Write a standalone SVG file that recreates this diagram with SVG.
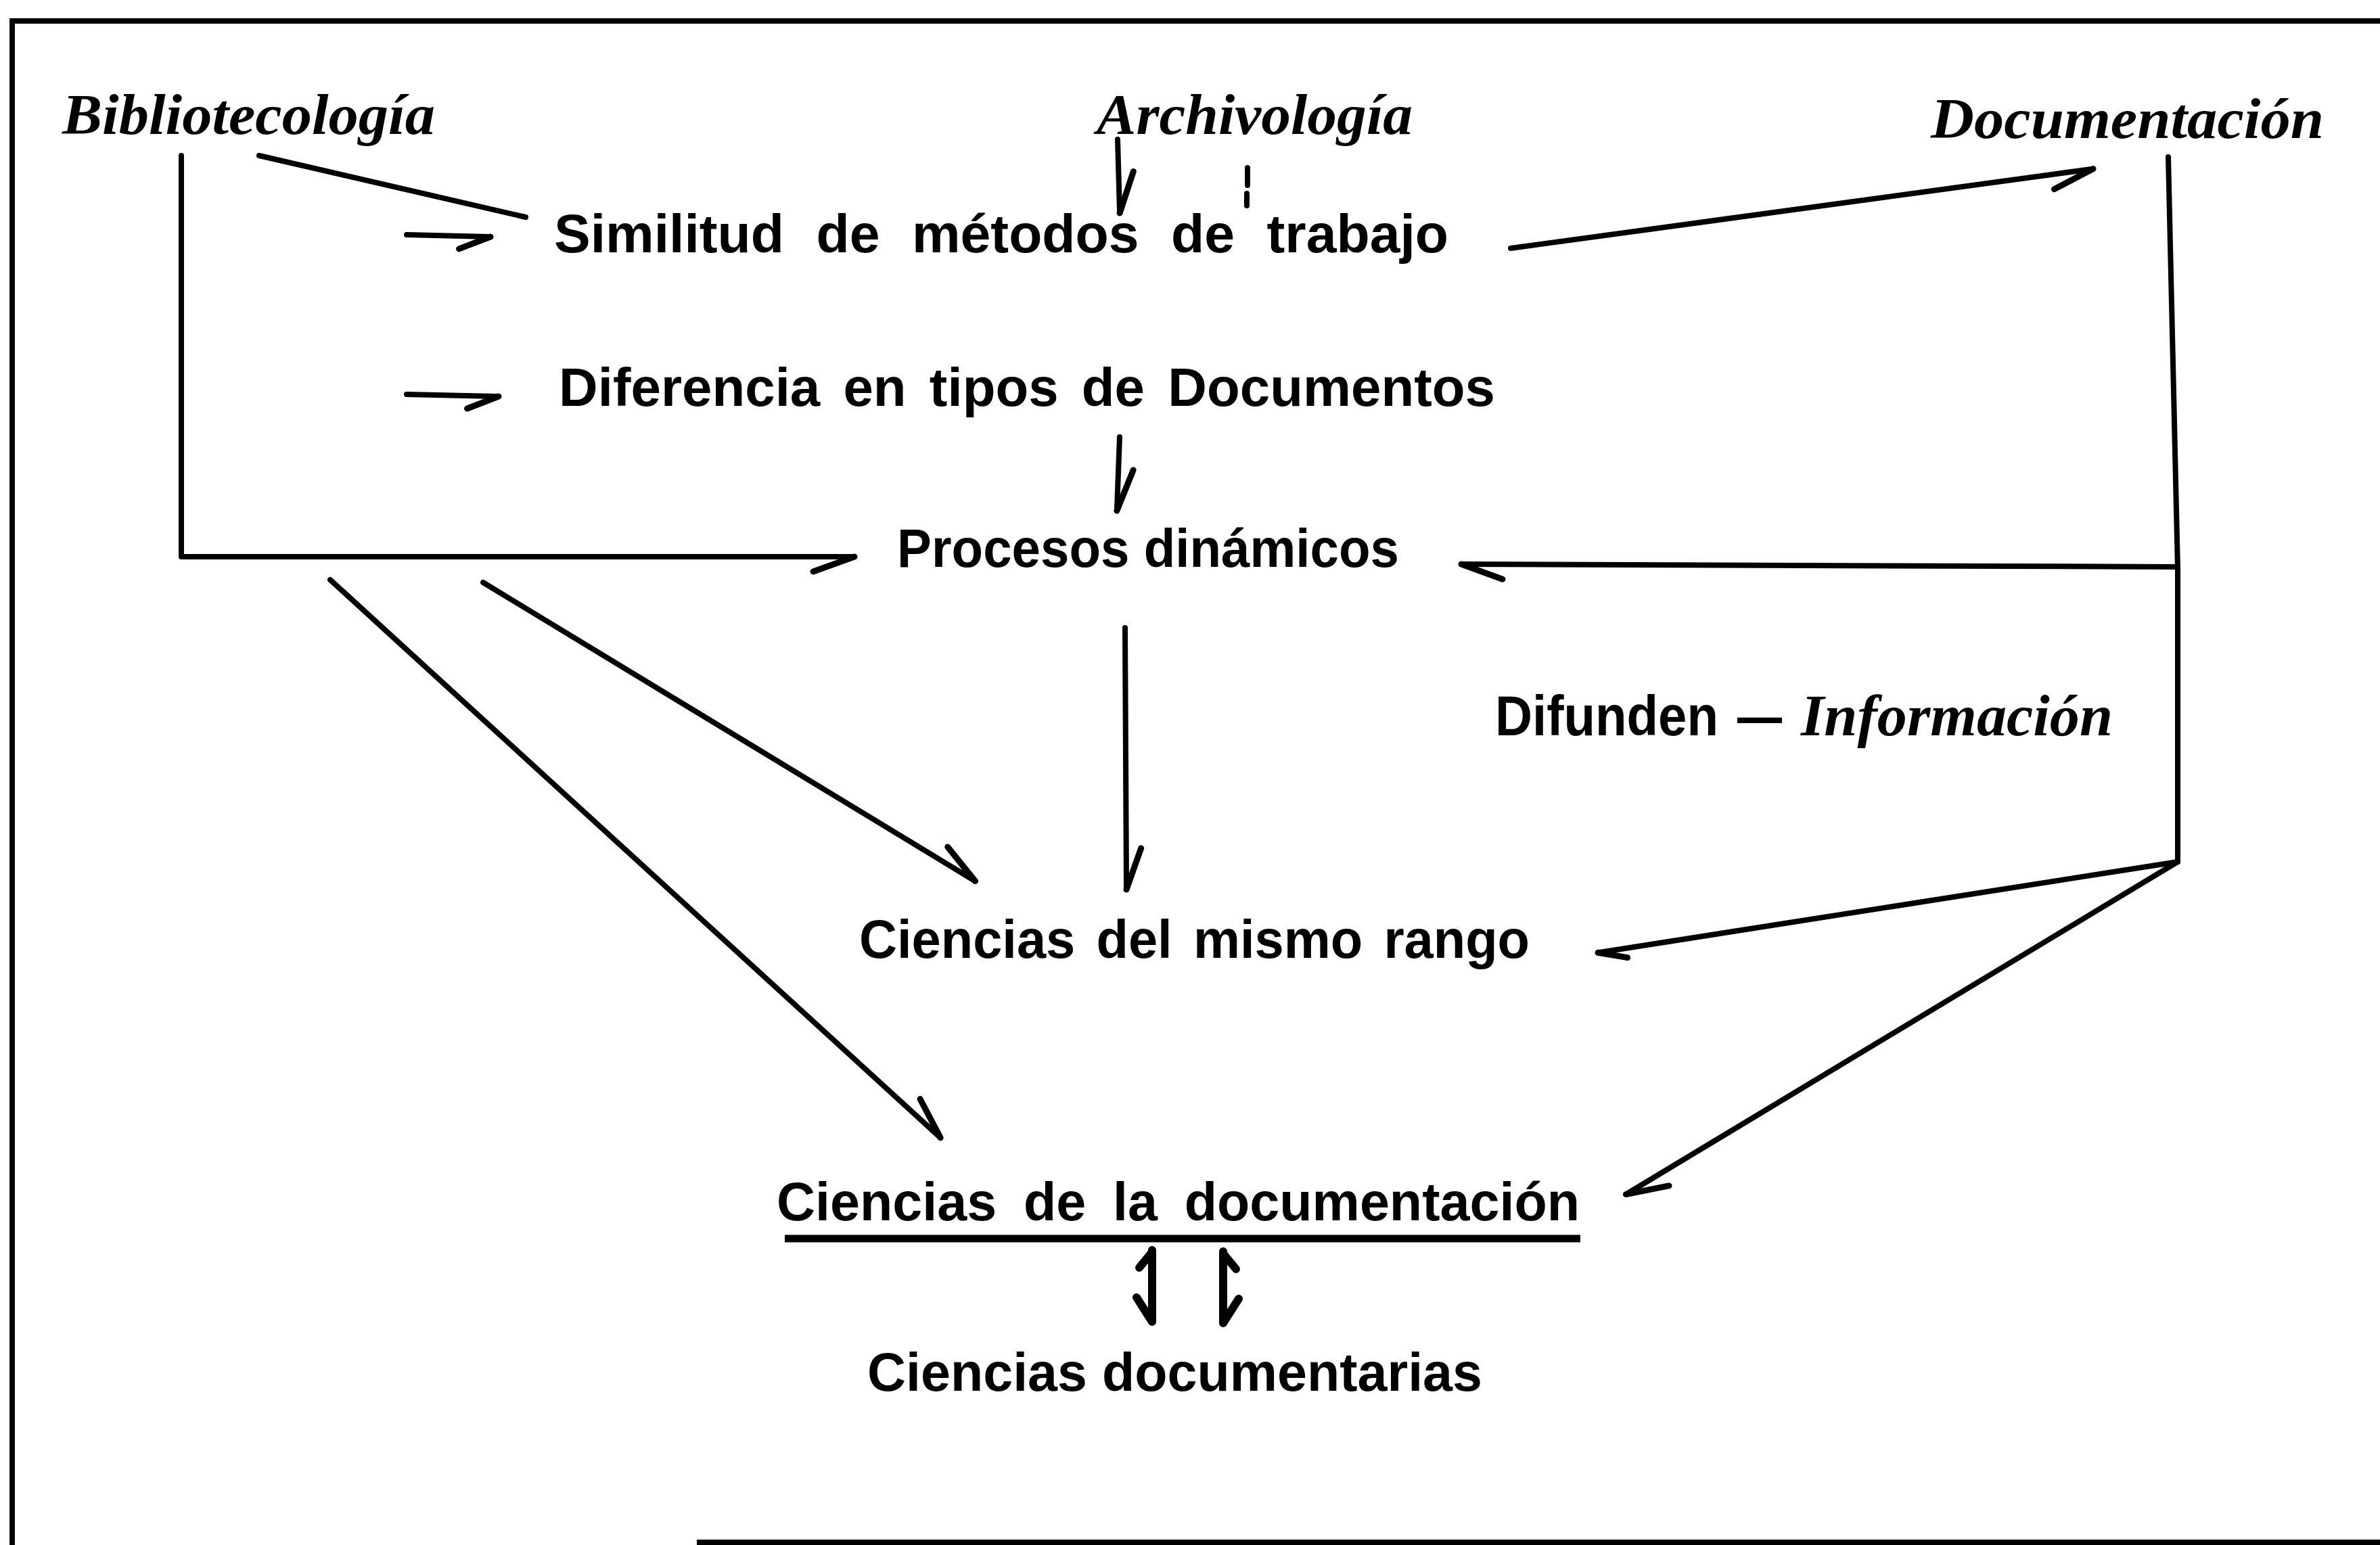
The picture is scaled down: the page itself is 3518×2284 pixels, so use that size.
<svg xmlns="http://www.w3.org/2000/svg" xmlns:xlink="http://www.w3.org/1999/xlink" width="3518" height="2284" viewBox="0 0 3518 2284">
<style>
.lbl{font-family:"Liberation Sans",Arial,sans-serif;font-weight:bold;font-size:80px;fill:#000}
.it{font-family:"Liberation Serif","Times New Roman",serif;font-style:italic;font-weight:bold;font-size:84px;fill:#000}
.ln{fill:none;stroke:#000;stroke-width:8;stroke-linecap:round;stroke-linejoin:round}
.frame{fill:none;stroke:#000;stroke-width:8}
</style>
<defs>
<marker id="barbR" markerUnits="userSpaceOnUse" orient="auto" refX="0" refY="0" markerWidth="1" markerHeight="1" overflow="visible">
<path d="M3,0 L-58,22" fill="none" stroke="#000" stroke-width="9" stroke-linecap="round"/>
</marker>
<marker id="barbL" markerUnits="userSpaceOnUse" orient="auto" refX="0" refY="0" markerWidth="1" markerHeight="1" overflow="visible">
<path d="M3,0 L-58,-22" fill="none" stroke="#000" stroke-width="9" stroke-linecap="round"/>
</marker>
<marker id="barbRs" markerUnits="userSpaceOnUse" orient="auto" refX="0" refY="0" markerWidth="1" markerHeight="1" overflow="visible">
<path d="M2,0 L-44,19" fill="none" stroke="#000" stroke-width="9" stroke-linecap="round"/>
</marker>
<marker id="barbLs" markerUnits="userSpaceOnUse" orient="auto" refX="0" refY="0" markerWidth="1" markerHeight="1" overflow="visible">
<path d="M2,0 L-40,-14" fill="none" stroke="#000" stroke-width="9" stroke-linecap="round"/>
</marker>
<g id="dbl">
<path d="M0,0 V106 M0,3 L-19,26 M0,106 L-23,70" fill="none" stroke="#000" stroke-width="12" stroke-linecap="round" stroke-linejoin="round"/>
</g>
</defs>
<rect x="0" y="0" width="3518" height="2284" fill="#fff"/>
<g id="frame">
<path class="frame" d="M3518,31 H18 V2284"/>
<path class="frame" d="M1030,2280 H3518"/>
</g>
<g id="connectors">
<path class="ln" d="M268,230 V823 H1260" marker-end="url(#barbR)"/>
<path class="ln" d="M383,230 L777,321"/>
<path class="ln" d="M601,347 L723,350" marker-end="url(#barbRs)"/>
<path class="ln" d="M601,583 L735,586" marker-end="url(#barbRs)"/>
<path class="ln" d="M1652,206 L1655,312" marker-end="url(#barbL)"/>
<path class="ln" d="M1844,248 V274 M1843,286 V304"/>
<path class="ln" d="M1655,646 L1651,752" marker-end="url(#barbL)"/>
<path class="ln" d="M2233,367 L3091,250" marker-end="url(#barbR)"/>
<path class="ln" d="M3205,232 L3219,841 V1274"/>
<path class="ln" d="M3219,838 L2163,834" marker-end="url(#barbL)"/>
<path class="ln" d="M1663,928 L1665,1312" marker-end="url(#barbL)"/>
<path class="ln" d="M3219,1274 L2364,1408" marker-end="url(#barbLs)"/>
<path class="ln" d="M3219,1274 L2406,1764" marker-end="url(#barbL)"/>
<path class="ln" d="M488,857 L1388,1680" marker-end="url(#barbL)"/>
<path class="ln" d="M714,861 L1439,1301" marker-end="url(#barbL)"/>
<use xlink:href="#dbl" href="#dbl" transform="translate(1703,1848)"/>
<use xlink:href="#dbl" href="#dbl" transform="translate(1808,1850) scale(-1,1)"/>
</g>
<g id="node-bibliotecologia"><text class="it" x="92" y="198" textLength="551" lengthAdjust="spacingAndGlyphs">Bibliotecología</text></g>
<g id="node-archivologia"><text class="it" x="1621" y="198" textLength="467" lengthAdjust="spacingAndGlyphs">Archivología</text></g>
<g id="node-documentacion"><text class="it" x="2854" y="204" textLength="581" lengthAdjust="spacingAndGlyphs">Documentación</text></g>
<g id="node-similitud"><text class="lbl" x="819" y="373" textLength="1322" lengthAdjust="spacingAndGlyphs" word-spacing="25">Similitud de métodos de trabajo</text></g>
<g id="node-diferencia"><text class="lbl" x="826" y="600" textLength="1384" lengthAdjust="spacingAndGlyphs" word-spacing="12">Diferencia en tipos de Documentos</text></g>
<g id="node-procesos"><text class="lbl" x="1326" y="838" textLength="742" lengthAdjust="spacingAndGlyphs">Procesos dinámicos</text></g>
<g id="node-difunden"><text class="lbl" y="1087" style="font-size:84px"><tspan x="2210" textLength="330" lengthAdjust="spacingAndGlyphs">Difunden</tspan><tspan x="2568" textLength="66" lengthAdjust="spacingAndGlyphs">—</tspan><tspan x="2662" class="it" style="font-size:86px" textLength="461" lengthAdjust="spacingAndGlyphs">Información</tspan></text></g>
<g id="node-mismo-rango"><text class="lbl" x="1270" y="1416" textLength="991" lengthAdjust="spacingAndGlyphs" word-spacing="10">Ciencias del mismo rango</text></g>
<g id="node-ciencias-documentacion">
<text class="lbl" x="1148" y="1804" textLength="1187" lengthAdjust="spacingAndGlyphs" word-spacing="18">Ciencias de la documentación</text>
<path d="M1160,1831 H2336" fill="none" stroke="#000" stroke-width="11"/>
</g>
<g id="node-ciencias-documentarias"><text class="lbl" x="1282" y="2056" textLength="909" lengthAdjust="spacingAndGlyphs">Ciencias documentarias</text></g>
</svg>
